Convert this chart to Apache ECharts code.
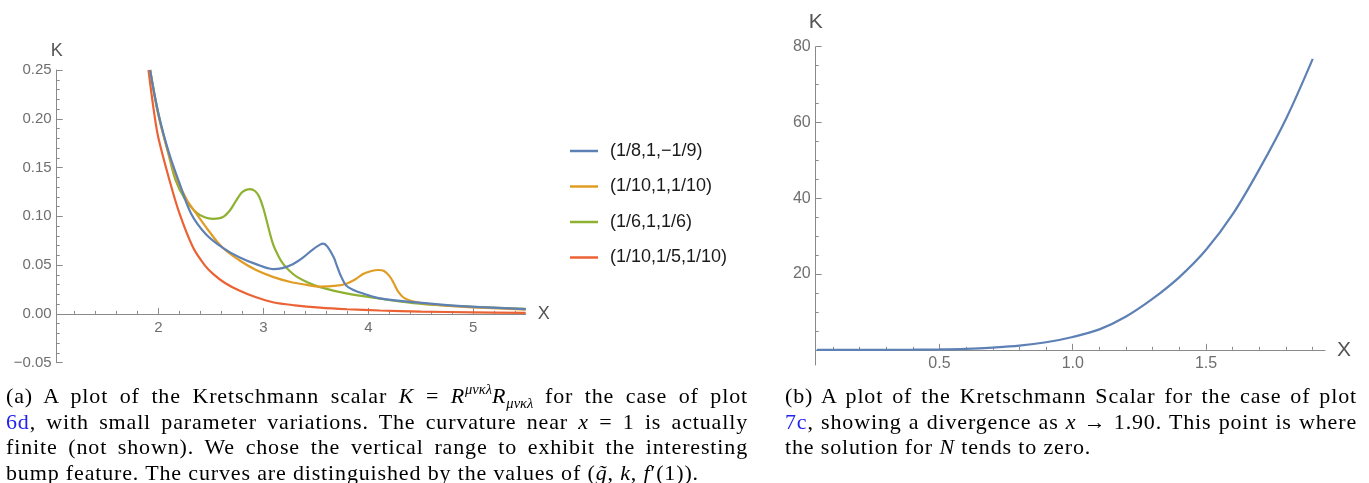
<!DOCTYPE html>
<html>
<head>
<meta charset="utf-8">
<script src="https://cdn.jsdelivr.net/npm/echarts@6/dist/echarts.min.js"></script>
<style>
  html, body { margin: 0; padding: 0; background: #fff; }
  #chart { position: absolute; left: 0; top: 0; width: 1369px; height: 483px; }
  .cap { position: absolute; font-family: 'Liberation Serif', 'DejaVu Serif', serif; font-size: 22px; letter-spacing: 0.85px; line-height: 25.5px; color: #000; }
  .cap div { text-align: justify; text-align-last: justify; white-space: nowrap; }
  .cap div.last { text-align-last: left; }
  .ref { color: #2323f0; }
  sup, sub { font-size: 0.66em; line-height: 0; position: relative; vertical-align: baseline; letter-spacing: 0; }
  sup { top: -0.6em; }
  sub { top: 0.35em; }
</style>
</head>
<body>
<div id="chart"></div>

<div class="cap" style="left:6px; top:383px; width:742px;">
  <div>(a) A plot of the Kretschmann scalar <i>K</i> = <i>R</i><sup><i>μνκλ</i></sup><i>R</i><sub><i>μνκλ</i></sub> for the case of plot</div>
  <div><span class="ref">6d</span>, with small parameter variations. The curvature near <i>x</i> = 1 is actually</div>
  <div>finite (not shown). We chose the vertical range to exhibit the interesting</div>
  <div class="last">bump feature. The curves are distinguished by the values of (<i>g̃</i>, <i>k</i>, <i>f</i>′(1)).</div>
</div>

<div class="cap" style="left:785px; top:383px; width:572px;">
  <div>(b) A plot of the Kretschmann Scalar for the case of plot</div>
  <div><span class="ref">7c</span>, showing a divergence as <i>x</i> → 1.90. This point is where</div>
  <div class="last">the solution for <i>N</i> tends to zero.</div>
</div>

<script>
// ---- (a) K(x) for four parameter sets (g~, k, f'(1)) ----
const seriesNames = ['(1/8,1,−1/9)', '(1/10,1,1/10)', '(1/6,1,1/6)', '(1/10,1/5,1/10)'];
const seriesColors = ['#5E81B5', '#E19C24', '#8FB131', '#EB6235'];

const curveBlue = [
  [1.92, 0.25], [2.0, 0.205], [2.1, 0.165], [2.2, 0.134], [2.31, 0.103], [2.45, 0.082],
  [2.61, 0.068], [2.77, 0.058], [2.93, 0.051], [3.09, 0.046], [3.18, 0.047], [3.28, 0.051],
  [3.38, 0.058], [3.47, 0.066], [3.54, 0.071], [3.57, 0.072], [3.61, 0.069], [3.67, 0.058],
  [3.70, 0.0495], [3.73, 0.041], [3.79, 0.029], [3.87, 0.024], [3.95, 0.021], [4.11, 0.016],
  [4.43, 0.012], [4.75, 0.009], [5.07, 0.007], [5.5, 0.005]
];
const curveOrange = [
  [1.92, 0.25], [2.0, 0.203], [2.1, 0.163], [2.18, 0.137], [2.27, 0.117], [2.36, 0.103],
  [2.48, 0.085], [2.61, 0.068], [2.77, 0.055], [2.93, 0.045], [3.09, 0.038], [3.25, 0.033],
  [3.4, 0.030], [3.54, 0.028], [3.7, 0.029], [3.79, 0.031], [3.87, 0.035], [3.95, 0.041],
  [4.03, 0.044], [4.095, 0.045], [4.15, 0.044], [4.2, 0.039], [4.24, 0.032], [4.29, 0.022],
  [4.34, 0.0164], [4.43, 0.0126], [4.59, 0.010], [4.8, 0.008], [5.07, 0.0064], [5.5, 0.0045]
];
const curveGreen = [
  [1.92, 0.25], [2.0, 0.205], [2.1, 0.162], [2.16, 0.138], [2.25, 0.118], [2.35, 0.105],
  [2.44, 0.099], [2.52, 0.0975], [2.61, 0.099], [2.68, 0.106], [2.74, 0.116], [2.8, 0.125],
  [2.87, 0.128], [2.92, 0.126], [2.96, 0.12], [3.0, 0.108], [3.03, 0.096], [3.09, 0.072],
  [3.14, 0.060], [3.19, 0.051], [3.25, 0.044], [3.32, 0.038], [3.43, 0.032], [3.54, 0.0275],
  [3.79, 0.021], [4.11, 0.0156], [4.43, 0.011], [4.75, 0.0085], [5.07, 0.007], [5.5, 0.0053]
];
const curveRed = [
  [1.905, 0.25], [1.96, 0.205], [2.0, 0.18], [2.105, 0.137], [2.2, 0.103], [2.33, 0.068],
  [2.44, 0.05], [2.52, 0.041], [2.63, 0.032], [2.77, 0.024], [2.93, 0.017], [3.09, 0.012],
  [3.3, 0.0088], [3.54, 0.0064], [3.8, 0.0048], [4.11, 0.0035], [4.5, 0.0024], [5.0, 0.0016],
  [5.5, 0.0011]
];
const curvesA = [curveBlue, curveOrange, curveGreen, curveRed];

// ---- (b) divergence of K as x -> 1.90 ----
const divX = [0.04, 0.2, 0.3, 0.4, 0.5, 0.6, 0.7, 0.8, 0.9, 1.0, 1.1, 1.2, 1.3, 1.4, 1.5, 1.6, 1.7, 1.8, 1.9];
const divK = [0, 0, 0.01, 0.04, 0.11, 0.27, 0.6, 1.1, 2.0, 3.4, 5.4, 8.8, 13.5, 19.2, 26.4, 35.8, 47.7, 61.0, 76.8];

// ---- tick values ----
const xTicksA = [2, 3, 4, 5];
const yTicksA = [-0.05, 0, 0.05, 0.10, 0.15, 0.20, 0.25];
const xTicksB = [0.5, 1.0, 1.5];
const yTicksB = [20, 40, 60, 80];

function minorTicks(from, to, step, majorStep) {
  const out = [];
  const n = Math.round((to - from) / step);
  for (let i = 0; i <= n; i++) {
    const v = +(from + i * step).toFixed(6);
    const r = v / majorStep;
    if (Math.abs(r - Math.round(r)) > 1e-6) out.push(v);
  }
  return out;
}
const xMinorA = minorTicks(1.2, 5.4, 0.2, 1);
const yMinorA = minorTicks(-0.04, 0.24, 0.01, 0.05);
const xMinorB = minorTicks(0.1, 1.9, 0.1, 0.5);
const yMinorB = minorTicks(5, 75, 5, 20);

// axis ranges and plot boxes
const rangeA = { xMin: 1.03, xMax: 5.5, yMin: -0.05, yMax: 0.25 };
const rangeB = { xMin: 0.036, xMax: 1.946, yMin: -4, yMax: 80 };
const boxA = { left: 56.7, top: 70, width: 469, height: 292.7 };
const boxB = { left: 815.7, top: 46.7, width: 509.3, height: 318.3 };
// the x axis runs along K = 0, lifted from the bottom edge of the box
const zeroLift = (box, r) => -box.height * (0 - r.yMin) / (r.yMax - r.yMin);

const FONT = "'Liberation Sans', Arial, sans-serif";
const AXIS_COLOR = '#8a8a8a';
const LABEL_COLOR = '#6f6f6f';
const NAME_COLOR = '#555';

function majorX(grid, r, ticks, lift, fmt, fs, nameSize) {
  return {
    gridIndex: grid, type: 'value', min: r.xMin, max: r.xMax, position: 'bottom', offset: lift,
    axisLine: { onZero: false, lineStyle: { color: AXIS_COLOR, width: 1 } },
    axisTick: { inside: true, length: 6, customValues: ticks, lineStyle: { color: AXIS_COLOR } },
    axisLabel: { customValues: ticks, margin: 6, color: LABEL_COLOR, fontSize: fs, fontFamily: FONT, formatter: fmt },
    splitLine: { show: false },
    name: 'X', nameLocation: 'end', nameGap: 12,
    nameTextStyle: { color: NAME_COLOR, fontSize: nameSize, fontFamily: FONT }
  };
}
function minorX(grid, r, ticks, lift) {
  return {
    gridIndex: grid, type: 'value', min: r.xMin, max: r.xMax, position: 'bottom', offset: lift,
    axisLine: { show: false, onZero: false },
    axisTick: { inside: true, length: 3, customValues: ticks, lineStyle: { color: AXIS_COLOR } },
    axisLabel: { show: false }, splitLine: { show: false }
  };
}
function majorY(grid, r, ticks, fmt, fs, nameSize, nameGap) {
  return {
    gridIndex: grid, type: 'value', min: r.yMin, max: r.yMax, position: 'left',
    axisLine: { show: true, onZero: false, lineStyle: { color: AXIS_COLOR, width: 1 } },
    axisTick: { show: true, inside: true, length: 6, customValues: ticks, lineStyle: { color: AXIS_COLOR } },
    axisLabel: { customValues: ticks, margin: 5, color: LABEL_COLOR, fontSize: fs, fontFamily: FONT, formatter: fmt },
    splitLine: { show: false },
    name: 'K', nameLocation: 'end', nameGap: nameGap,
    nameTextStyle: { color: NAME_COLOR, fontSize: nameSize, fontFamily: FONT, align: 'center' }
  };
}
function minorY(grid, r, ticks) {
  return {
    gridIndex: grid, type: 'value', min: r.yMin, max: r.yMax, position: 'left',
    axisLine: { show: false, onZero: false },
    axisTick: { show: true, inside: true, length: 3, customValues: ticks, lineStyle: { color: AXIS_COLOR } },
    axisLabel: { show: false }, splitLine: { show: false }
  };
}

const fmtA = v => (v < 0 ? '−' : '') + Math.abs(v).toFixed(2);
const fmtInt = v => String(Math.round(v));
const fmtOne = v => v.toFixed(1);

const chart = echarts.init(document.getElementById('chart'), null, { renderer: 'canvas' });

const seriesA = curvesA.map((data, i) => ({
  name: seriesNames[i], type: 'line', xAxisIndex: 0, yAxisIndex: 0,
  data: data, showSymbol: false, smooth: 0.35,
  color: seriesColors[i],
  itemStyle: { color: seriesColors[i] },
  lineStyle: { color: seriesColors[i], width: 2.2 },
  z: 10 - i
}));

const seriesB = {
  name: 'K', type: 'line', xAxisIndex: 2, yAxisIndex: 2,
  data: divX.map((x, i) => [x, divK[i]]),
  showSymbol: false, smooth: 0.35,
  color: '#5E81B5',
  lineStyle: { color: '#5E81B5', width: 2.2 }
};

const liftA = zeroLift(boxA, rangeA);
const liftB = zeroLift(boxB, rangeB);

chart.setOption({
  animation: false,
  textStyle: { fontFamily: FONT },
  grid: [boxA, boxB],
  xAxis: [
    majorX(0, rangeA, xTicksA, liftA, fmtInt, 15, 18),
    minorX(0, rangeA, xMinorA, liftA),
    majorX(1, rangeB, xTicksB, liftB, fmtOne, 16, 21),
    minorX(1, rangeB, xMinorB, liftB)
  ],
  yAxis: [
    majorY(0, rangeA, yTicksA, fmtA, 15, 18, 10),
    minorY(0, rangeA, yMinorA),
    majorY(1, rangeB, yTicksB, fmtInt, 16, 21, 14),
    minorY(1, rangeB, yMinorB)
  ],
  legend: {
    data: seriesNames,
    orient: 'vertical', left: 570, top: 141, padding: 0,
    icon: 'rect', itemWidth: 28, itemHeight: 2.5, itemGap: 15.5,
    textStyle: { fontSize: 18, color: '#1a1a1a', lineHeight: 20, fontFamily: FONT, padding: [0, 0, 0, 7] }
  },
  series: seriesA.concat([seriesB])
});
</script>
</body>
</html>
